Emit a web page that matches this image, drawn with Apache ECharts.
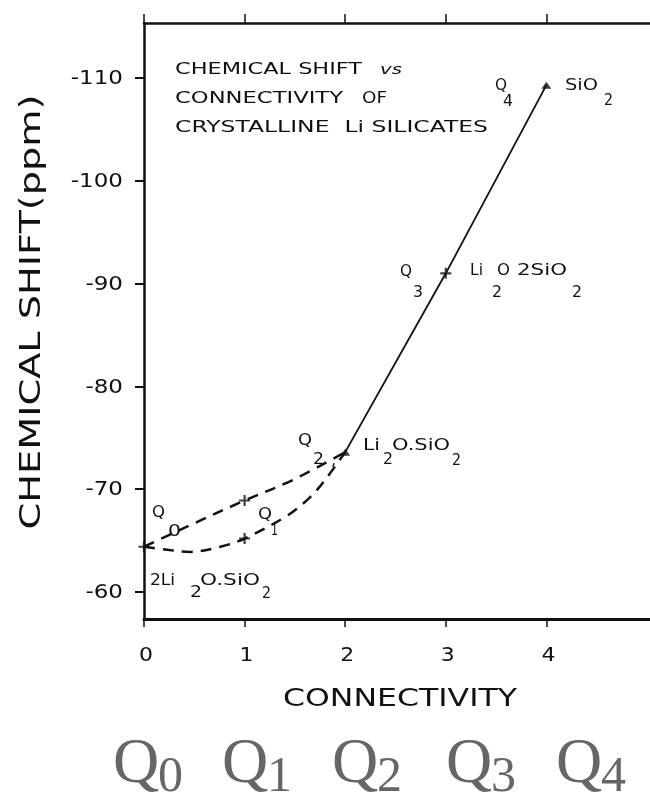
<!DOCTYPE html>
<html>
<head>
<meta charset="utf-8">
<script src="https://cdn.jsdelivr.net/npm/echarts@6/dist/echarts.min.js"></script>
<style>
  html, body { margin: 0; padding: 0; background: #fff; }
  #chart { width: 650px; height: 793px; }
</style>
</head>
<body>
<div id="chart"></div>
<script>
// Connectivity (number of bridging oxygens) and chemical-shift tick values
const connectivityTicks = [0, 1, 2, 3, 4];
const shiftTicks = [-110, -100, -90, -80, -70, -60];

// Measured crystalline Li silicates (connectivity, ppm)
const crossPoints = [[0, -64.4], [1, -68.9], [1, -65.2], [3, -91.0]];
const trianglePoints = [[2, -73.6], [4, -109.3]];

// Dashed trends across the low-connectivity region
const upperTrend = [[0, -64.4], [0.46, -66.5], [1, -68.9], [1.48, -70.9], [2, -73.6]];
const lowerTrend = [[0, -64.4], [0.23, -64.1], [0.46, -63.9], [0.76, -64.4], [1, -65.2],
                    [1.42, -67.4], [1.65, -69.2], [1.8, -70.9], [2, -73.6]];
// Straight trend Q2 -> Q3 -> Q4
const solidTrend = [[2, -73.6], [3, -91.0], [4, -109.3]];

const SANS = '"DejaVu Sans", sans-serif';
const SERIF = '"Liberation Serif", "Times New Roman", serif';
const INK = '#111';

const chart = echarts.init(document.getElementById('chart'), null, { renderer: 'canvas' });

const PLUS = 'path://M4,0h2v4h4v2h-4v4h-2v-4h-4v-2h4z';

chart.setOption({
  animation: false,
  backgroundColor: '#fff',
  grid: { left: 144, top: 23, right: 0, bottom: 174 },
  xAxis: [
    {
      type: 'value', position: 'bottom', min: 0, max: 5.03,
      axisLine: { show: true, onZero: false, lineStyle: { color: INK, width: 3 } },
      axisTick: { show: true, customValues: connectivityTicks, length: 8, lineStyle: { color: INK, width: 1.5 } },
      axisLabel: { show: false, customValues: connectivityTicks },
      splitLine: { show: false }
    },
    {
      type: 'value', position: 'top', min: 0, max: 5.03,
      axisLine: { show: true, onZero: false, lineStyle: { color: INK, width: 2.5 } },
      axisTick: { show: true, customValues: connectivityTicks, length: 9, lineStyle: { color: INK, width: 1.5 } },
      axisLabel: { show: false },
      splitLine: { show: false }
    }
  ],
  yAxis: {
    type: 'value', inverse: true, min: -115.35, max: -57.37,
    axisLine: { show: true, onZero: false, lineStyle: { color: INK, width: 2.5 } },
    axisTick: { show: true, customValues: shiftTicks, length: 9, lineStyle: { color: INK, width: 2 } },
    axisLabel: { show: false, customValues: shiftTicks },
    splitLine: { show: false }
  },
  series: [
    {
      type: 'line', data: upperTrend, smooth: 0.35, symbol: 'none',
      lineStyle: { color: INK, width: 2.5, type: [11, 8] }
    },
    {
      type: 'line', data: lowerTrend, smooth: 0.35, symbol: 'none',
      lineStyle: { color: INK, width: 2.5, type: [11, 8] }
    },
    {
      type: 'line', data: solidTrend, symbol: 'none',
      lineStyle: { color: INK, width: 1.8 }
    },
    {
      type: 'scatter', data: crossPoints, symbol: PLUS, symbolSize: 11,
      itemStyle: { color: INK }
    },
    {
      type: 'scatter', data: trianglePoints, symbol: 'triangle', symbolSize: [10, 7],
      itemStyle: { color: INK }
    }
  ]
});

// ---- hand-lettered text, stretched horizontally like stencil lettering ----
const measureCtx = document.createElement('canvas').getContext('2d');
function measure(text, font) {
  measureCtx.font = font;
  return measureCtx.measureText(text).width;
}
// text piece: left x, centre y, optional target width
function piece(x, cy, text, size, width, extra) {
  extra = extra || {};
  const fam = extra.family || SANS;
  const font = (extra.italic ? 'italic ' : '') + size + 'px ' + fam;
  const w = measure(text, font);
  const sx = width ? width / w : (extra.sx || 1.2);
  return {
    type: 'text', x: x, y: cy, scaleX: sx, rotation: extra.rotation || 0,
    silent: true,
    style: {
      text: text, font: font, fill: extra.fill || INK,
      align: extra.align || 'left', verticalAlign: 'middle',
      textAlign: extra.align || 'left', textVerticalAlign: 'middle'
    }
  };
}

const pieces = [];
// axis tick labels
shiftTicks.forEach(v => {
  const p = chart.convertToPixel({ yAxisIndex: 0 }, v);
  pieces.push(piece(123, p + 1, String(v), 20, null, { align: 'right', sx: 1.15 }));
});
connectivityTicks.forEach(v => {
  const p = chart.convertToPixel({ xAxisIndex: 0 }, v);
  pieces.push(piece(p + 2, 656, String(v), 20, null, { align: 'center', sx: 1.1 }));
});
// axis titles
pieces.push(piece(400, 700, 'CONNECTIVITY', 24, 234, { align: 'center' }));
pieces.push(piece(33, 312, 'CHEMICAL SHIFT(ppm)', 28, 435, { align: 'center', rotation: Math.PI / 2 }));

// title block
pieces.push(piece(175, 70, 'CHEMICAL SHIFT', 15, 187));
pieces.push(piece(380, 70, 'vs', 14, 22, { italic: true }));
pieces.push(piece(175, 99, 'CONNECTIVITY', 15, 168));
pieces.push(piece(362, 99, 'OF', 15, 25));
pieces.push(piece(175, 128, 'CRYSTALLINE  Li SILICATES', 15, 313));

// Q4 / SiO2
pieces.push(piece(495, 86, 'Q', 16, 12));
pieces.push(piece(503, 102, '4', 15, 10));
pieces.push(piece(565, 86, 'SiO', 16, 33));
pieces.push(piece(604, 101, '2', 15, 9));
// Q3 / Li2O 2SiO2
pieces.push(piece(400, 272, 'Q', 16, 12));
pieces.push(piece(413, 293, '3', 15, 10));
pieces.push(piece(470, 271, 'Li', 16, 13));
pieces.push(piece(492, 293, '2', 15, 10));
pieces.push(piece(497, 271, 'O', 16, 13));
pieces.push(piece(517, 271, '2SiO', 16, 50));
pieces.push(piece(572, 293, '2', 15, 10));
// Q2 / Li2O.SiO2
pieces.push(piece(298, 441, 'Q', 16, 14));
pieces.push(piece(313, 460, '2', 15, 11));
pieces.push(piece(331, 461, ',', 15, 5));
pieces.push(piece(363, 446, 'Li', 16, 17));
pieces.push(piece(383, 460, '2', 15, 10));
pieces.push(piece(392, 446, 'O.SiO', 16, 58));
pieces.push(piece(452, 461, '2', 15, 9));
// Q0 and Q1
pieces.push(piece(152, 513, 'Q', 16, 13));
pieces.push(piece(168, 532, '0', 15, 13));
pieces.push(piece(258, 515, 'Q', 16, 14));
pieces.push(piece(271, 531, '1', 15, 7));
// 2Li2O.SiO2
pieces.push(piece(150, 581, '2Li', 16, 25));
pieces.push(piece(190, 593, '2', 15, 12));
pieces.push(piece(200, 581, 'O.SiO', 16, 60));
pieces.push(piece(262, 594, '2', 15, 9));

// Qn row beneath the axis
const qLefts = [113, 222, 332, 446, 556];
qLefts.forEach((x, i) => {
  pieces.push(piece(x, 765, 'Q', 64, null, { family: SERIF, fill: '#666', sx: 1 }));
  pieces.push(piece(x + 45, 778, String(connectivityTicks[i]), 50, null, { family: SERIF, fill: '#666', sx: 1 }));
});

chart.setOption({ graphic: { elements: pieces } });
</script>
</body>
</html>
